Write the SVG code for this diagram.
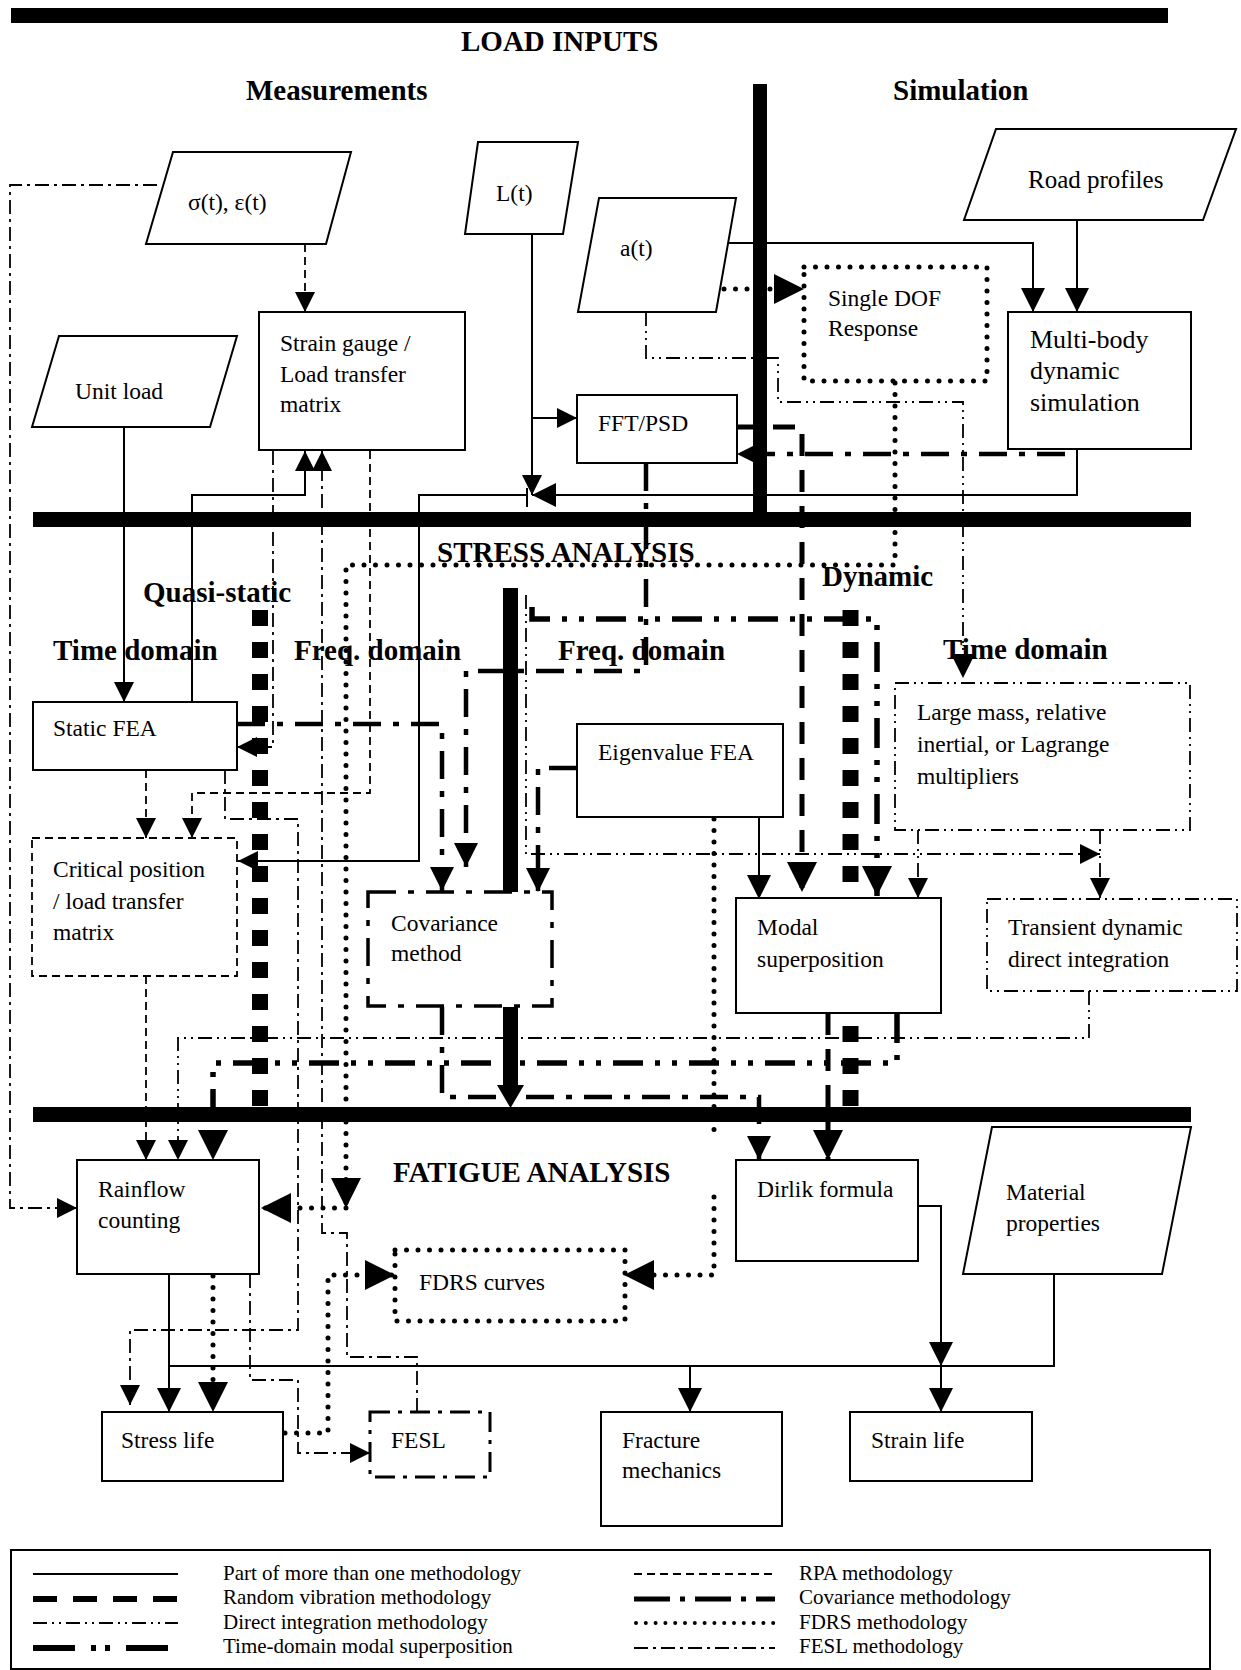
<svg xmlns="http://www.w3.org/2000/svg" width="1241" height="1670" viewBox="0 0 1241 1670">
<style>
.t{font-family:"Liberation Serif","Times New Roman",serif;font-size:23.5px;fill:#000}
.h{font-family:"Liberation Serif","Times New Roman",serif;font-size:29px;font-weight:bold;fill:#000}
.lg{font-family:"Liberation Serif","Times New Roman",serif;font-size:21px;fill:#000}
.bx{fill:#fff;stroke:#000;stroke-width:2}
.c{fill:none;stroke:#000}
.solid{stroke-width:2}
.rpa{stroke-width:1.8;stroke-dasharray:8 5}
.rv{stroke-width:5;stroke-dasharray:22 14}
.di{stroke-width:1.8;stroke-dasharray:14 5 2 5 2 5}
.tdm{stroke-width:5.5;stroke-dasharray:30 12 5 12 5 12}
.cov{stroke-width:4.5;stroke-dasharray:28 12 6 12}
.fdrs{stroke-width:5;stroke-dasharray:0 11.5;stroke-linecap:round}
.fesl{stroke-width:1.8;stroke-dasharray:14 5 3 5}
.bar{fill:#000}
</style>
<defs>
<marker id="as" markerUnits="userSpaceOnUse" markerWidth="20" markerHeight="20" refX="20" refY="10" orient="auto"><path d="M0,0 L20,10 L0,20 z" fill="#000"/></marker>
<marker id="am" markerUnits="userSpaceOnUse" markerWidth="24" markerHeight="24" refX="24" refY="12" orient="auto"><path d="M0,0 L24,12 L0,24 z" fill="#000"/></marker>
<marker id="al" markerUnits="userSpaceOnUse" markerWidth="30" markerHeight="30" refX="30" refY="15" orient="auto"><path d="M0,0 L30,15 L0,30 z" fill="#000"/></marker>
</defs>
<rect width="1241" height="1670" fill="#fff"/>

<g id="separators">
<rect class="bar" x="11" y="8" width="1157" height="15"/>
<rect class="bar" x="753" y="84" width="14" height="436"/>
<rect class="bar" x="33" y="512" width="1158" height="15"/>
<rect class="bar" x="33" y="1107" width="1158" height="15"/>
<rect class="bar" x="503" y="588" width="15" height="304"/>
<rect class="bar" x="503" y="1007" width="15" height="80"/>
<polygon class="bar" points="497,1085 524,1085 510.5,1108"/>
<line x1="260" y1="610" x2="260" y2="1107" stroke="#000" stroke-width="16" stroke-dasharray="16 16"/>
<line x1="850.5" y1="610" x2="850.5" y2="1107" stroke="#000" stroke-width="16" stroke-dasharray="16 16"/>
</g>

<g id="connectors">
<path class="c rpa" d="M305,244 V312" marker-end="url(#as)"/>
<path class="c solid" d="M532,234 V495" marker-end="url(#as)"/>
<path class="c solid" d="M532,418 H577" marker-end="url(#as)"/>
<path class="c solid" d="M1077,449 V495 H532" marker-end="url(#am)"/>
<path class="c solid" d="M527,488 V507"/>
<path class="c solid" d="M527,495 H419 V861 H238" marker-end="url(#as)"/>
<path class="c solid" d="M1077,220 V312" marker-end="url(#am)"/>
<path class="c solid" d="M728,243 H1033 V312" marker-end="url(#am)"/>
<path class="c fdrs" d="M724,289 H804" marker-end="url(#al)"/>
<path class="c di" d="M646,312 V358 H778 V402 H963 V678" marker-end="url(#am)"/>
<path class="c rv" d="M737,427 H802 V892" marker-end="url(#al)"/>
<path class="c cov" d="M1065,454 H737" marker-end="url(#as)"/>
<path class="c cov" d="M646,463 V671 H466 V867" marker-end="url(#am)"/>
<path class="c fdrs" d="M895,383 V565 H346 V1208" marker-end="url(#al)"/>
<path class="c fdrs" d="M346,1208 H261" marker-end="url(#al)"/>
<path class="c solid" d="M124,427 V702" marker-end="url(#as)"/>
<path class="c solid" d="M192,702 V495 H305 V451" marker-end="url(#as)"/>
<path class="c fesl" d="M417,1412 V1357 H347 V1233 H322 V451" marker-end="url(#as)"/>
<path class="c fesl" d="M273,451 V747 H237" marker-end="url(#as)"/>
<path class="c cov" d="M237,724 H442 V891" marker-end="url(#am)"/>
<path class="c rpa" d="M370,451 V793 H192 V838" marker-end="url(#as)"/>
<path class="c rpa" d="M146,770 V838" marker-end="url(#as)"/>
<path class="c rpa" d="M146,976 V1160" marker-end="url(#as)"/>
<path class="c fesl" d="M225,770 V819 H298 V1330 H130 V1405" marker-end="url(#as)"/>
<path class="c di" d="M1089,991 V1038 H178 V1160" marker-end="url(#as)"/>
<path class="c tdm" d="M897,1013 V1063 H213 V1160" marker-end="url(#al)"/>
<path class="c tdm" d="M532,607 V619 H877 V896" marker-end="url(#al)"/>
<path class="c di" d="M526,595 V854 H1100" marker-end="url(#as)"/>
<path class="c di" d="M1100,830 V898" marker-end="url(#as)"/>
<path class="c di" d="M918,830 V898" marker-end="url(#as)"/>
<path class="c cov" d="M577,768 H538 V892" marker-end="url(#am)"/>
<path class="c solid" d="M759,817 V899" marker-end="url(#am)"/>
<path class="c rv" d="M828,1013 V1160" marker-end="url(#al)"/>
<path class="c cov" d="M442,1007 V1097 H759 V1160" marker-end="url(#am)"/>
<path class="c solid" d="M169,1274 V1412" marker-end="url(#am)"/>
<path class="c solid" d="M169,1366 H1054 V1274"/>
<path class="c solid" d="M690,1366 V1412" marker-end="url(#am)"/>
<path class="c solid" d="M918,1206 H941 V1366" marker-end="url(#am)"/>
<path class="c solid" d="M941,1366 V1412" marker-end="url(#am)"/>
<path class="c fdrs" d="M213,1276 V1412" marker-end="url(#al)"/>
<path class="c fdrs" d="M285,1433 H328 V1275 H395" marker-end="url(#al)"/>
<path class="c fdrs" d="M714,819 V1138"/>
<path class="c fdrs" d="M714,1197 V1275 H624" marker-end="url(#al)"/>
<path class="c fesl" d="M250,1274 V1380 H298 V1453 H370" marker-end="url(#as)"/>
<path class="c fesl" d="M157,185 H10 V1208 H77" marker-end="url(#as)"/>
</g>

<g id="n-sigma"><polygon class="bx" points="173,152 351,152 326,244 146,244"/><text class="t" x="188" y="210">σ(t), ε(t)</text></g>
<g id="n-lt"><polygon class="bx" points="478,142 578,142 563,234 465,234"/><text class="t" x="496" y="201">L(t)</text></g>
<g id="n-at"><polygon class="bx" points="599,198 736,198 716,312 578,312"/><text class="t" x="620" y="256">a(t)</text></g>
<g id="n-road"><polygon class="bx" points="996,129 1236,129 1203,220 964,220"/><text class="t" x="1028" y="188" style="font-size:25px">Road profiles</text></g>
<g id="n-unit"><polygon class="bx" points="59,336 237,336 210,427 32,427"/><text class="t" x="75" y="399">Unit load</text></g>
<g id="n-strain"><rect class="bx" x="259" y="312" width="206" height="138"/><text class="t" x="280" y="351">Strain gauge /</text><text class="t" x="280" y="382">Load transfer</text><text class="t" x="280" y="412">matrix</text></g>
<g id="n-mbd"><rect class="bx" x="1008" y="312" width="183" height="137"/><text class="t" x="1030" y="348" style="font-size:26px">Multi-body</text><text class="t" x="1030" y="379" style="font-size:26px">dynamic</text><text class="t" x="1030" y="411" style="font-size:26px">simulation</text></g>
<g id="n-sdof"><rect x="804" y="267" width="183" height="114" fill="#fff" class="c fdrs"/><text class="t" x="828" y="306">Single DOF</text><text class="t" x="828" y="336">Response</text></g>
<g id="n-fft"><rect class="bx" x="577" y="395" width="160" height="68"/><text class="t" x="598" y="431">FFT/PSD</text></g>
<g id="n-static"><rect class="bx" x="33" y="702" width="204" height="68"/><text class="t" x="53" y="736">Static FEA</text></g>
<g id="n-critical"><rect x="32" y="838" width="205" height="138" fill="#fff" class="c rpa"/><text class="t" x="53" y="877">Critical position</text><text class="t" x="53" y="909">/ load transfer</text><text class="t" x="53" y="940">matrix</text></g>
<g id="n-cov"><rect x="368" y="892" width="184" height="114" fill="#fff" class="c cov" style="stroke-width:3.5"/><text class="t" x="391" y="931">Covariance</text><text class="t" x="391" y="961">method</text></g>
<g id="n-eigen"><rect class="bx" x="577" y="724" width="206" height="93"/><text class="t" x="598" y="760">Eigenvalue FEA</text></g>
<g id="n-large"><rect x="895" y="683" width="295" height="147" fill="#fff" class="c di"/><text class="t" x="917" y="720">Large mass, relative</text><text class="t" x="917" y="752">inertial, or Lagrange</text><text class="t" x="917" y="784">multipliers</text></g>
<g id="n-modal"><rect class="bx" x="736" y="898" width="205" height="115"/><text class="t" x="757" y="935">Modal</text><text class="t" x="757" y="967">superposition</text></g>
<g id="n-transient"><rect x="987" y="899" width="250" height="92" fill="#fff" class="c di"/><text class="t" x="1008" y="935">Transient dynamic</text><text class="t" x="1008" y="967">direct integration</text></g>
<g id="n-rainflow"><rect class="bx" x="77" y="1160" width="182" height="114"/><text class="t" x="98" y="1197">Rainflow</text><text class="t" x="98" y="1228">counting</text></g>
<g id="n-fdrs"><rect x="395" y="1250" width="230" height="71" fill="#fff" class="c fdrs"/><text class="t" x="419" y="1290">FDRS curves</text></g>
<g id="n-dirlik"><rect class="bx" x="736" y="1160" width="182" height="101"/><text class="t" x="757" y="1197">Dirlik formula</text></g>
<g id="n-material"><polygon class="bx" points="992,1127 1191,1127 1162,1274 963,1274"/><text class="t" x="1006" y="1200">Material</text><text class="t" x="1006" y="1231">properties</text></g>
<g id="n-stress"><rect class="bx" x="102" y="1412" width="181" height="69"/><text class="t" x="121" y="1448">Stress life</text></g>
<g id="n-fesl"><rect x="370" y="1412" width="120" height="65" fill="#fff" class="c fesl" style="stroke-width:3;stroke-dasharray:20 8 4 8"/><text class="t" x="391" y="1448">FESL</text></g>
<g id="n-fracture"><rect class="bx" x="601" y="1412" width="181" height="114"/><text class="t" x="622" y="1448">Fracture</text><text class="t" x="622" y="1478">mechanics</text></g>
<g id="n-strainlife"><rect class="bx" x="850" y="1412" width="182" height="69"/><text class="t" x="871" y="1448">Strain life</text></g>

<g id="headings">
<text class="h" x="461" y="51">LOAD INPUTS</text>
<text class="h" x="246" y="100">Measurements</text>
<text class="h" x="893" y="100">Simulation</text>
<text class="h" x="437" y="562">STRESS ANALYSIS</text>
<text class="h" x="143" y="602">Quasi-static</text>
<text class="h" x="822" y="586">Dynamic</text>
<text class="h" x="53" y="660">Time domain</text>
<text class="h" x="294" y="660">Freq. domain</text>
<text class="h" x="558" y="660">Freq. domain</text>
<text class="h" x="943" y="659">Time domain</text>
<text class="h" x="393" y="1182">FATIGUE ANALYSIS</text>
</g>

<g id="legend">
<rect x="11" y="1550" width="1199" height="119" fill="none" stroke="#000" stroke-width="2"/>
<line class="c solid" x1="33" y1="1574" x2="178" y2="1574"/>
<line class="c" x1="33" y1="1599" x2="178" y2="1599" stroke-width="6" stroke-dasharray="24 16"/>
<line class="c di" x1="33" y1="1623" x2="178" y2="1623"/>
<line class="c" x1="33" y1="1648" x2="178" y2="1648" stroke-width="6" stroke-dasharray="42 16 5 9 5 16"/>
<line class="c rpa" x1="634" y1="1574" x2="775" y2="1574"/>
<line class="c" x1="634" y1="1599" x2="775" y2="1599" stroke-width="5" stroke-dasharray="36 10 5 10"/>
<line class="c fdrs" x1="636" y1="1623" x2="774" y2="1623" style="stroke-width:4;stroke-dasharray:0 9.8"/>
<line class="c fesl" x1="634" y1="1648" x2="775" y2="1648"/>
<text class="lg" x="223" y="1580">Part of more than one methodology</text>
<text class="lg" x="223" y="1604">Random vibration methodology</text>
<text class="lg" x="223" y="1629">Direct integration methodology</text>
<text class="lg" x="223" y="1653">Time-domain modal superposition</text>
<text class="lg" x="799" y="1580">RPA methodology</text>
<text class="lg" x="799" y="1604">Covariance methodology</text>
<text class="lg" x="799" y="1629">FDRS methodology</text>
<text class="lg" x="799" y="1653">FESL methodology</text>
</g>
</svg>
